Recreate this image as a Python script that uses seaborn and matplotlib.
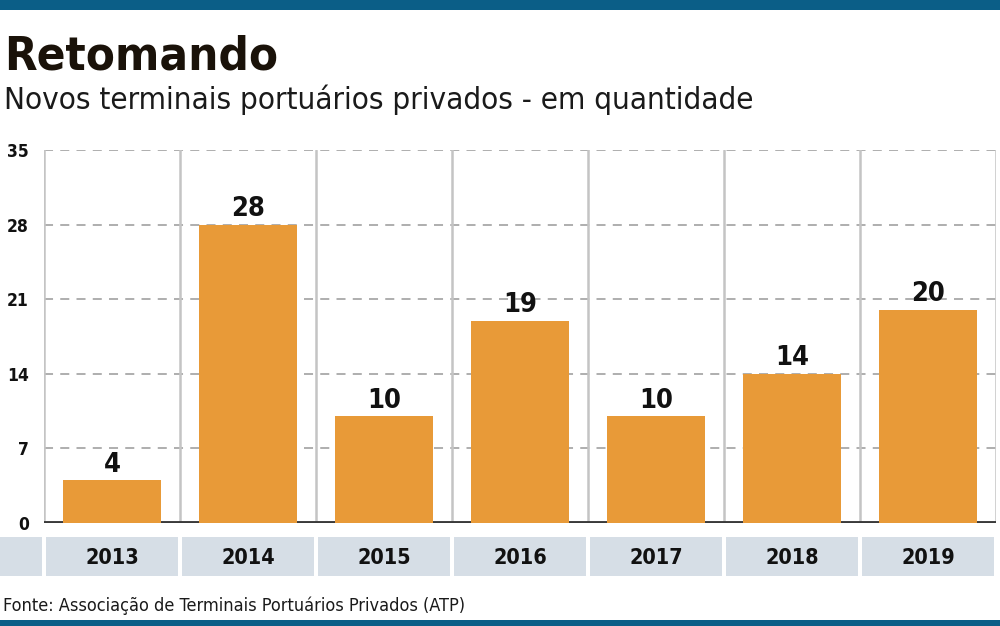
import numpy as np
import matplotlib
matplotlib.use('Agg')
import matplotlib.pyplot as plt
import matplotlib.transforms as mtransforms
from matplotlib.patches import Rectangle
import seaborn as sns

years = ['2013', '2014', '2015', '2016', '2017', '2018', '2019']
values = [4, 28, 10, 19, 10, 14, 20]
yticks = [0, 7, 14, 21, 28, 35]

bar_color = '#e89a38'
band_color = '#d6dee6'
blue = '#0b5e87'

sns.set_style('white')
plt.rcParams['font.family'] = ['DejaVu Sans']

fig = plt.figure(figsize=(10, 6.26), dpi=100)
ax = fig.add_axes([0.044, 1 - 523 / 626, 0.952, (523 - 150) / 626])

sns.barplot(x=years, y=values, color=bar_color, saturation=1, width=0.72, ax=ax,
            zorder=3, linewidth=0, edgecolor='none')

ax.set_ylim(0, 35)
ax.set_xlim(-0.5, len(years) - 0.5)
for s in ax.spines.values():
    s.set_visible(False)

# dashed horizontal grid
for y in yticks[1:]:
    ax.axhline(y, color='#a8a8a8', lw=1.3, ls=(0, (5, 4)), zorder=1)
# vertical separators
for i in range(len(years) + 1):
    ax.axvline(i - 0.5, color='#c4c4c4', lw=1.8, zorder=2)
ax.axhline(0, color='#3a3a3a', lw=2.8, zorder=2)

ax.set_yticks(yticks)
ax.set_yticklabels([str(v) for v in yticks], fontsize=12.5, fontweight='bold',
                   stretch='condensed', color='#111111')
ax.tick_params(axis='y', length=0, pad=11)
ax.set_xticks(range(len(years)))
ax.set_xticklabels(years, fontsize=15.5, fontweight='bold', stretch='condensed',
                   color='#111111')
ax.tick_params(axis='x', length=0, pad=18)
ax.set_xlabel('')
ax.set_ylabel('')

# value labels
for i, v in enumerate(values):
    ax.annotate(str(v), (i, v), xytext=(0, 2), textcoords='offset points',
                ha='center', va='bottom', fontsize=19.5, fontweight='bold',
                stretch='condensed', color='#111111')

# year band cells
trans = mtransforms.blended_transform_factory(ax.transData, fig.transFigure)
y0 = 1 - 576 / 626
h = (576 - 537) / 626
gap = 0.016
for i in range(len(years)):
    ax.add_patch(Rectangle((i - 0.5 + gap, y0), 1 - 2 * gap, h, transform=trans,
                           facecolor=band_color, edgecolor='none', clip_on=False, zorder=0))
fig.patches.append(Rectangle((0, y0), 42 / 1000, h, transform=fig.transFigure,
                             facecolor=band_color, edgecolor='none'))

# top and bottom bars
fig.patches.append(Rectangle((0, 1 - 10 / 626), 1, 10 / 626, transform=fig.transFigure,
                             facecolor=blue, edgecolor='none'))
fig.patches.append(Rectangle((0, 0), 1, 6 / 626, transform=fig.transFigure,
                             facecolor=blue, edgecolor='none'))

fig.text(0.004, 1 - 69 / 626, 'Retomando', fontsize=34, fontweight='heavy',
         stretch='condensed', color='#1a1209', va='baseline')
fig.text(0.004, 1 - 109 / 626, 'Novos terminais portuários privados - em quantidade',
         fontsize=22.5, stretch='condensed', color='#1a1a1a', va='baseline')
fig.text(0.003, 1 - 611 / 626, 'Fonte: Associação de Terminais Portuários Privados (ATP)',
         fontsize=13, stretch='condensed', color='#1a1a1a', va='baseline')

fig.savefig('out.png', dpi=100, facecolor='white')
